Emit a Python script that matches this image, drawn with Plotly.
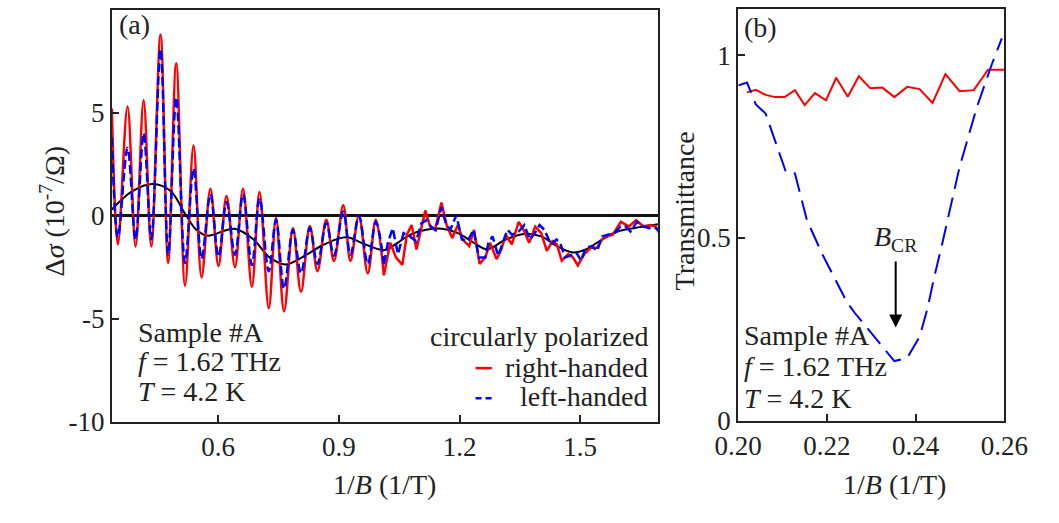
import plotly.graph_objects as go

# ---------------- Panel (a) data ----------------
# smooth oscillating part (extrema), 1/B in 1/T, delta sigma in 1e-7/Ohm
a_x_osc = [0.336, 0.351, 0.375, 0.395, 0.415, 0.434, 0.457, 0.476, 0.496, 0.518, 0.539, 0.559,
           0.581, 0.601, 0.621, 0.642, 0.662, 0.684, 0.703, 0.726, 0.744, 0.764, 0.786, 0.806,
           0.828, 0.847, 0.869, 0.888, 0.911, 0.929, 0.950, 0.972, 0.992, 1.012]
a_red_osc = [5.2, -1.4, 5.3, -1.5, 5.6, -1.5, 8.8, -2.3, 7.4, -3.4, 3.4, -3.0, 1.3, -2.45, 0.95, -2.5,
             1.3, -3.45, 1.15, -4.5, -0.1, -4.65, -0.6, -3.7, -0.5, -2.7, -0.2, -2.2, 0.5, -2.2, 0.0,
             -2.8, -0.2, -2.9]
a_blue_osc = [3.8, -1.05, 3.3, -1.15, 4.0, -1.15, 8.1, -1.9, 5.75, -2.3, 2.3, -2.1, 1.04, -2.0, 0.66,
              -1.9, 1.04, -2.4, 0.85, -2.7, -0.2, -3.55, -0.7, -2.8, -0.6, -2.35, -0.35, -1.95, 0.2,
              -1.9, 0.0, -2.35, -0.3, -2.34]

a_x_red_tail = [1.012, 1.028, 1.042, 1.058, 1.069, 1.081, 1.093, 1.115, 1.127, 1.139, 1.155, 1.169,
                1.182, 1.196, 1.208, 1.224, 1.236, 1.250, 1.264, 1.276, 1.292, 1.304, 1.315, 1.330,
                1.347, 1.359, 1.373, 1.388, 1.403, 1.417, 1.431, 1.442, 1.454, 1.470, 1.482, 1.494,
                1.510, 1.526, 1.542, 1.554, 1.565, 1.581, 1.601, 1.621, 1.639, 1.657, 1.673, 1.688, 1.698]
a_red_tail = [-2.9, -1.32, -2.03, -2.39, -0.93, -0.46, -1.64, 0.25, -0.53, -0.69, 0.64, -0.53, -1.08,
              -0.46, -1.16, -1.48, -0.69, -2.34, -2.03, -1.32, -2.11, -1.64, -0.93, -1.40, -0.30,
              -0.69, -1.32, -0.53, -0.85, -1.71, -1.24, -1.40, -2.18, -1.87, -2.03, -2.42, -1.87,
              -1.56, -1.56, -1.16, -1.01, -0.93, -0.30, -0.53, -0.22, -0.53, -0.46, -0.53, -0.93]

a_x_blue_tail = [1.012, 1.022, 1.034, 1.047, 1.061, 1.077, 1.092, 1.105, 1.117, 1.129, 1.141, 1.155,
                 1.166, 1.177, 1.192, 1.206, 1.220, 1.235, 1.248, 1.264, 1.272, 1.282, 1.296, 1.308,
                 1.319, 1.331, 1.347, 1.361, 1.375, 1.387, 1.399, 1.411, 1.427, 1.441, 1.450, 1.462,
                 1.474, 1.490, 1.502, 1.514, 1.528, 1.542, 1.554, 1.569, 1.585, 1.600, 1.613, 1.625,
                 1.641, 1.657, 1.673, 1.688, 1.698]
a_blue_tail = [-2.34, -1.32, -0.61, -1.87, -0.85, -1.01, -1.24, -0.38, -0.22, -0.53, -0.69, 0.41,
               -0.38, -0.69, 0.02, -1.16, -1.24, -0.69, -2.03, -2.03, -1.32, -1.01, -1.95, -1.32,
               -0.69, -0.93, -0.77, -0.46, -1.16, -0.85, -0.46, -0.69, -1.40, -1.16, -1.32, -2.03,
               -1.95, -1.79, -2.18, -1.56, -1.48, -1.71, -1.01, -0.93, -0.85, -0.53, -0.53, -0.77,
               -0.30, -0.53, -0.61, -0.61, -0.77]

a_x_black = [0.336, 0.387, 0.438, 0.482, 0.518, 0.546, 0.573, 0.641, 0.688, 0.728, 0.768, 0.815,
             0.863, 0.919, 0.966, 1.014, 1.046, 1.077, 1.117, 1.157, 1.196, 1.236, 1.268, 1.315,
             1.363, 1.403, 1.442, 1.482, 1.514, 1.554, 1.593, 1.633, 1.698]
a_black = [0.3, 1.19, 1.54, 1.2, 0.09, -0.69, -0.97, -0.64, -1.16, -2.03, -2.37, -1.95, -1.40, -1.05,
           -1.40, -1.67, -1.32, -0.93, -0.69, -0.64, -0.85, -1.32, -1.63, -1.16, -0.88, -1.01, -1.48,
           -1.79, -1.64, -1.16, -0.77, -0.61, -0.41]

a_xticks = [0.6, 0.9, 1.2, 1.5]
a_xticktext = ["0.6", "0.9", "1.2", "1.5"]
a_yticks = [-10, -5, 0, 5, 10]
a_yticktext = ["-10", "-5", "0", "5", "10"]

# ---------------- Panel (b) data ----------------
b_x_red = [0.2020, 0.2040, 0.2062, 0.2083, 0.2105, 0.2128, 0.2150, 0.2173, 0.2198, 0.2221, 0.2247,
           0.2272, 0.2298, 0.2325, 0.2352, 0.2381, 0.2409, 0.2438, 0.2467, 0.2499, 0.2531, 0.2563, 0.2599]
b_red = [0.899, 0.906, 0.892, 0.886, 0.886, 0.905, 0.864, 0.897, 0.877, 0.939, 0.887, 0.943, 0.910,
         0.912, 0.886, 0.914, 0.908, 0.870, 0.949, 0.902, 0.905, 0.961, 0.961]
b_x_blue = [0.2001, 0.2020, 0.2040, 0.2062, 0.2108, 0.2128, 0.2155, 0.2190, 0.2244, 0.2262, 0.2352,
            0.2381, 0.2409, 0.2427, 0.2441, 0.2459, 0.2499, 0.2538, 0.2571, 0.2594]
b_blue = [0.918, 0.926, 0.866, 0.841, 0.680, 0.677, 0.549, 0.455, 0.327, 0.296, 0.163, 0.172, 0.230,
          0.309, 0.389, 0.480, 0.695, 0.859, 0.974, 1.047]

b_xticks = [0.20, 0.22, 0.24, 0.26]
b_xticktext = ["0.20", "0.22", "0.24", "0.26"]
b_yticks = [0, 0.5, 1]
b_yticktext = ["0", "0.5", "1"]

B_CR = 0.2355

# ---------------- Figure ----------------
FONT = "Liberation Serif"
TXT = "#222222"
RED = "#ff0000"
BLUE = "#0000ff"
W, H = 1059, 523

fig = go.Figure()

fig.add_trace(go.Scatter(x=a_x_black, y=a_black, mode="lines", line=dict(color="black", width=2, shape="spline"),
                         xaxis="x", yaxis="y", showlegend=False))
fig.add_trace(go.Scatter(x=a_x_osc, y=a_red_osc, mode="lines", line=dict(color=RED, width=2.5, shape="spline", smoothing=1.0),
                         xaxis="x", yaxis="y", showlegend=False))
fig.add_trace(go.Scatter(x=a_x_red_tail, y=a_red_tail, mode="lines", line=dict(color=RED, width=2.5),
                         xaxis="x", yaxis="y", showlegend=False))
fig.add_trace(go.Scatter(x=a_x_osc, y=a_blue_osc, mode="lines",
                         line=dict(color=BLUE, width=2.5, shape="spline", smoothing=1.0, dash="9px,4px"),
                         xaxis="x", yaxis="y", showlegend=False))
fig.add_trace(go.Scatter(x=a_x_blue_tail, y=a_blue_tail, mode="lines", line=dict(color=BLUE, width=2.5, dash="9px,4px"),
                         xaxis="x", yaxis="y", showlegend=False))

fig.add_trace(go.Scatter(x=b_x_red, y=b_red, mode="lines", line=dict(color=RED, width=2),
                         xaxis="x2", yaxis="y2", showlegend=False))
fig.add_trace(go.Scatter(x=b_x_blue, y=b_blue, mode="lines", line=dict(color=BLUE, width=2, dash="20px,9px"),
                         xaxis="x2", yaxis="y2", showlegend=False))

axis_common = dict(showline=True, linecolor=TXT, linewidth=2, mirror=True, ticks="inside", ticklen=7,
                   tickwidth=1.5, tickcolor=TXT, showgrid=False,
                   tickfont=dict(family=FONT, size=27, color=TXT), tickmode="array")

fig.update_layout(
    width=W, height=H, margin=dict(l=0, r=0, t=0, b=0),
    paper_bgcolor="white", plot_bgcolor="white", showlegend=False,
    xaxis=dict(domain=[92 / W, 664 / W], range=[0.336, 1.693], tickvals=a_xticks, ticktext=a_xticktext,
               zeroline=False, anchor="y", **axis_common),
    yaxis=dict(domain=[1 - 434 / H, 1 - 10 / H], range=[-10, 10], tickvals=a_yticks, ticktext=a_yticktext,
               zeroline=True, zerolinecolor="#111111", zerolinewidth=3, anchor="x", **axis_common),
    xaxis2=dict(domain=[748 / W, 1027 / W], range=[0.20, 0.26], tickvals=b_xticks, ticktext=b_xticktext,
                zeroline=False, anchor="y2", **axis_common),
    yaxis2=dict(domain=[1 - 433 / H, 1 - 9 / H], range=[0, 1.128], tickvals=b_yticks, ticktext=b_yticktext,
                zeroline=False, anchor="x2", **axis_common),
)

def txt(x, y, s, xanchor="left", size=28, angle=0, xref="paper", yref="paper"):
    fig.add_annotation(x=x, y=y, xref=xref, yref=yref, text=s, showarrow=False, xanchor=xanchor,
                       yanchor="middle", textangle=angle, font=dict(family=FONT, size=size, color=TXT))

# axis titles
txt(378 / W, 1 - 499 / H, "1/<i>B</i> (1/T)", xanchor="center")
txt(912 / W, 1 - 499 / H, "1/<i>B</i> (1/T)", xanchor="center")
txt(30 / W, 1 - 218 / H, "Δ<i>σ</i> (10<sup>-7</sup>/Ω)", xanchor="center", angle=-90)
txt(692 / W, 1 - 217 / H, "Transmittance", xanchor="center", angle=-90)

# panel labels
txt(97 / W, 1 - 25 / H, "(a)")
txt(752 / W, 1 - 28 / H, "(b)")

# sample info
for i, s in enumerate(["Sample #A", "<i>f</i> = 1.62 THz", "<i>T</i> = 4.2 K"]):
    txt(117 / W, 1 - (342 + 30.5 * i) / H, s)
    txt(752 / W, 1 - (345 + 32.5 * i) / H, s)

# legend (custom)
txt(656 / W, 1 - 346 / H, "circularly polarized", xanchor="right")
txt(656 / W, 1 - 378 / H, "right-handed", xanchor="right")
txt(656 / W, 1 - 408 / H, "left-handed", xanchor="right")
fig.add_shape(type="line", xref="paper", yref="paper", x0=473 / W, x1=490 / W, y0=1 - 379 / H, y1=1 - 379 / H,
              line=dict(color=RED, width=2.5))
fig.add_shape(type="line", xref="paper", yref="paper", x0=473 / W, x1=490 / W, y0=1 - 410 / H, y1=1 - 410 / H,
              line=dict(color=BLUE, width=2.5, dash="6px,4px"))

# B_CR label and arrow
txt(B_CR, 0.50, "<i>B</i><sub>CR</sub>", xanchor="center", xref="x2", yref="y2")
fig.add_annotation(x=B_CR, y=0.255, xref="x2", yref="y2", ax=B_CR, ay=0.44, axref="x2", ayref="y2",
                   text="", showarrow=True, arrowhead=2, arrowsize=1.3, arrowwidth=2, arrowcolor="black")

fig.write_html("out.html")
